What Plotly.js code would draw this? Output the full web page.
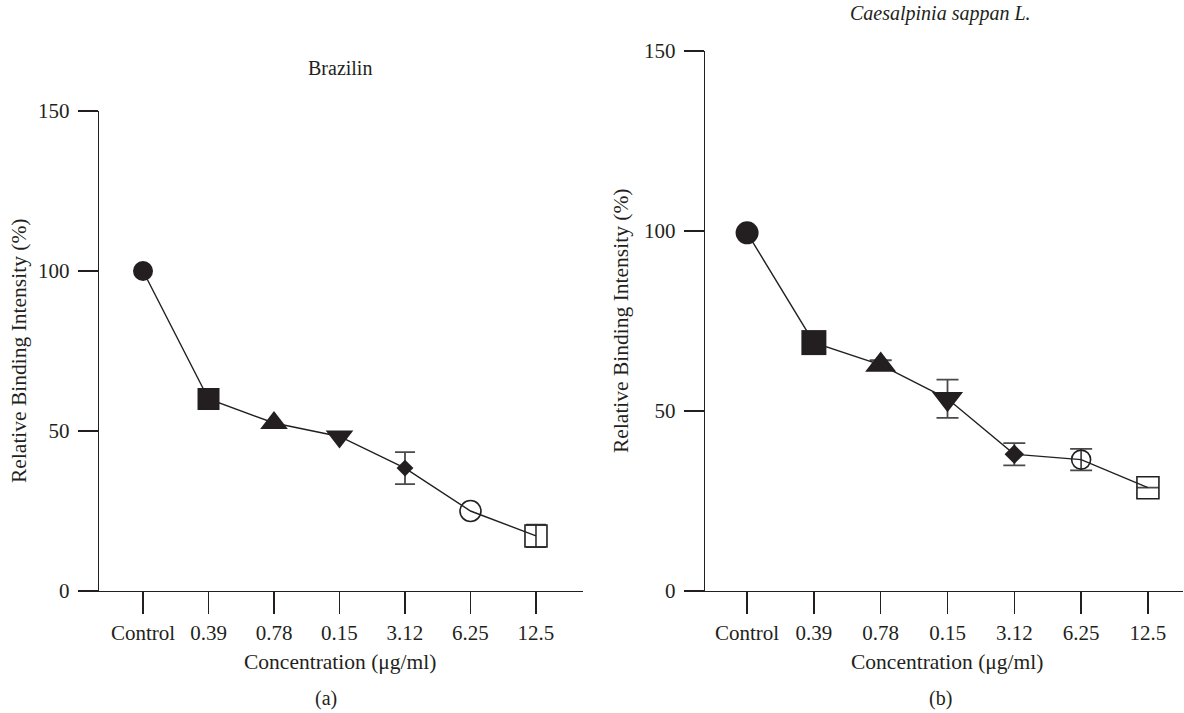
<!DOCTYPE html>
<html>
<head>
<meta charset="utf-8">
<script src="https://cdn.plot.ly/plotly-3.0.1.min.js"></script>
<style>
html, body { margin: 0; padding: 0; background: #ffffff; }
#chart { width: 1184px; height: 713px; }
</style>
</head>
<body>
<div id="chart"></div>
<script>
// ---- Data ----
var categories = ['Control', '0.39', '0.78', '0.15', '3.12', '6.25', '12.5'];
var brazilinValues = [100, 60, 52.5, 48.3, 38.4, 25, 17.2];
var brazilinErrors = [null, null, null, null, 5, null, 3.5];
var sappanValues = [99.5, 69, 62.8, 53.4, 38, 36.5, 28.7];
var sappanErrors = [null, null, 1.3, 5.3, 3.1, 3, 0];
var markerSymbols = ['circle', 'square', 'triangle-up', 'triangle-down', 'diamond', 'circle-open', 'square-open'];
var yTickValues = [0, 50, 100, 150];
var panelTitles = ['Brazilin', 'Caesalpinia sappan L.'];
var panelLabels = ['(a)', '(b)'];
var xAxisTitle = 'Concentration (μg/ml)';
var yAxisTitle = 'Relative Binding Intensity (%)';

// ---- Style / layout helpers ----
var W = 1184, H = 713;
var ink = '#231f20';
var errInk = '#4a4a4a';
var FONT = 'Liberation Serif, Times New Roman, serif';
function px(x) { return x / W; }
function py(y) { return 1 - y / H; }
var idx = categories.map(function (c, i) { return i; });

function errArr(a) { return a.map(function (v) { return v === null ? NaN : v; }); }

var openLine = markerSymbols.map(function (s) { return s.indexOf('open') >= 0 ? 1.6 : 0; });

var traceA = {
  x: idx, y: brazilinValues, xaxis: 'x', yaxis: 'y',
  type: 'scatter', mode: 'lines+markers',
  line: { color: ink, width: 1.4 },
  marker: { symbol: markerSymbols, size: [20, 22, 24, 24, 13, 21, 22], color: ink, opacity: 1,
            line: { color: ink, width: openLine } },
  error_y: { type: 'data', array: errArr(brazilinErrors), visible: true, color: errInk, thickness: 1.8, width: 10 },
  cliponaxis: false, hoverinfo: 'skip'
};
var traceB = {
  x: idx, y: sappanValues, xaxis: 'x2', yaxis: 'y2',
  type: 'scatter', mode: 'lines+markers',
  line: { color: ink, width: 1.4 },
  marker: { symbol: markerSymbols, size: [23, 25, 27, 27, 15, 19, 22], color: ink, opacity: 1,
            line: { color: ink, width: openLine } },
  error_y: { type: 'data', array: errArr(sappanErrors), visible: true, color: errInk, thickness: 1.8, width: 11 },
  cliponaxis: false, hoverinfo: 'skip'
};

function xAxis(d0, d1, r0, r1, anchor) {
  return {
    domain: [px(d0), px(d1)], range: [r0, r1], anchor: anchor,
    tickmode: 'array', tickvals: idx, ticktext: categories,
    showline: true, linecolor: ink, linewidth: 1.4,
    ticks: 'outside', ticklen: 22, tickwidth: 1.4, tickcolor: ink,
    showgrid: false, zeroline: false, fixedrange: true,
    tickfont: { family: FONT, size: 21, color: ink }
  };
}
function yAxis(d0, d1, anchor) {
  return {
    domain: [py(d0), py(d1)], range: [0, 150], anchor: anchor,
    tickmode: 'array', tickvals: yTickValues,
    showline: true, linecolor: ink, linewidth: 1.4,
    ticks: 'outside', ticklen: 20, tickwidth: 1.4, tickcolor: ink,
    showgrid: false, zeroline: false, fixedrange: true,
    ticklabelstandoff: 4,
    tickfont: { family: FONT, size: 21, color: ink }
  };
}

function note(text, x, y, size, extra) {
  var a = { text: text, x: px(x), y: py(y), xref: 'paper', yref: 'paper',
            showarrow: false, xanchor: 'center', yanchor: 'middle',
            font: { family: FONT, size: size, color: ink } };
  for (var k in extra) a[k] = extra[k];
  return a;
}

var layout = {
  width: W, height: H,
  margin: { l: 0, r: 0, t: 0, b: 0 },
  paper_bgcolor: '#ffffff', plot_bgcolor: '#ffffff',
  showlegend: false,
  xaxis: xAxis(99, 583, -0.672, 6.718, 'y'),
  yaxis: yAxis(591, 111, 'x'),
  xaxis2: xAxis(705, 1183, -0.63, 6.525, 'y2'),
  yaxis2: yAxis(591, 51, 'x2'),
  annotations: [
    note(panelTitles[0], 340, 68, 20),
    note('<i>' + panelTitles[1] + '</i>', 940, 13, 20),
    note(xAxisTitle, 340, 662, 21.5),
    note(xAxisTitle, 947, 662, 21.5),
    note(yAxisTitle, 19, 351, 21.5, { textangle: -90 }),
    note(yAxisTitle, 621, 321, 21.5, { textangle: -90 }),
    note(panelLabels[0], 326, 698, 20),
    note(panelLabels[1], 940, 698, 20)
  ]
};

Plotly.newPlot('chart', [traceA, traceB], layout, { displayModeBar: false, staticPlot: true });
</script>
</body>
</html>
